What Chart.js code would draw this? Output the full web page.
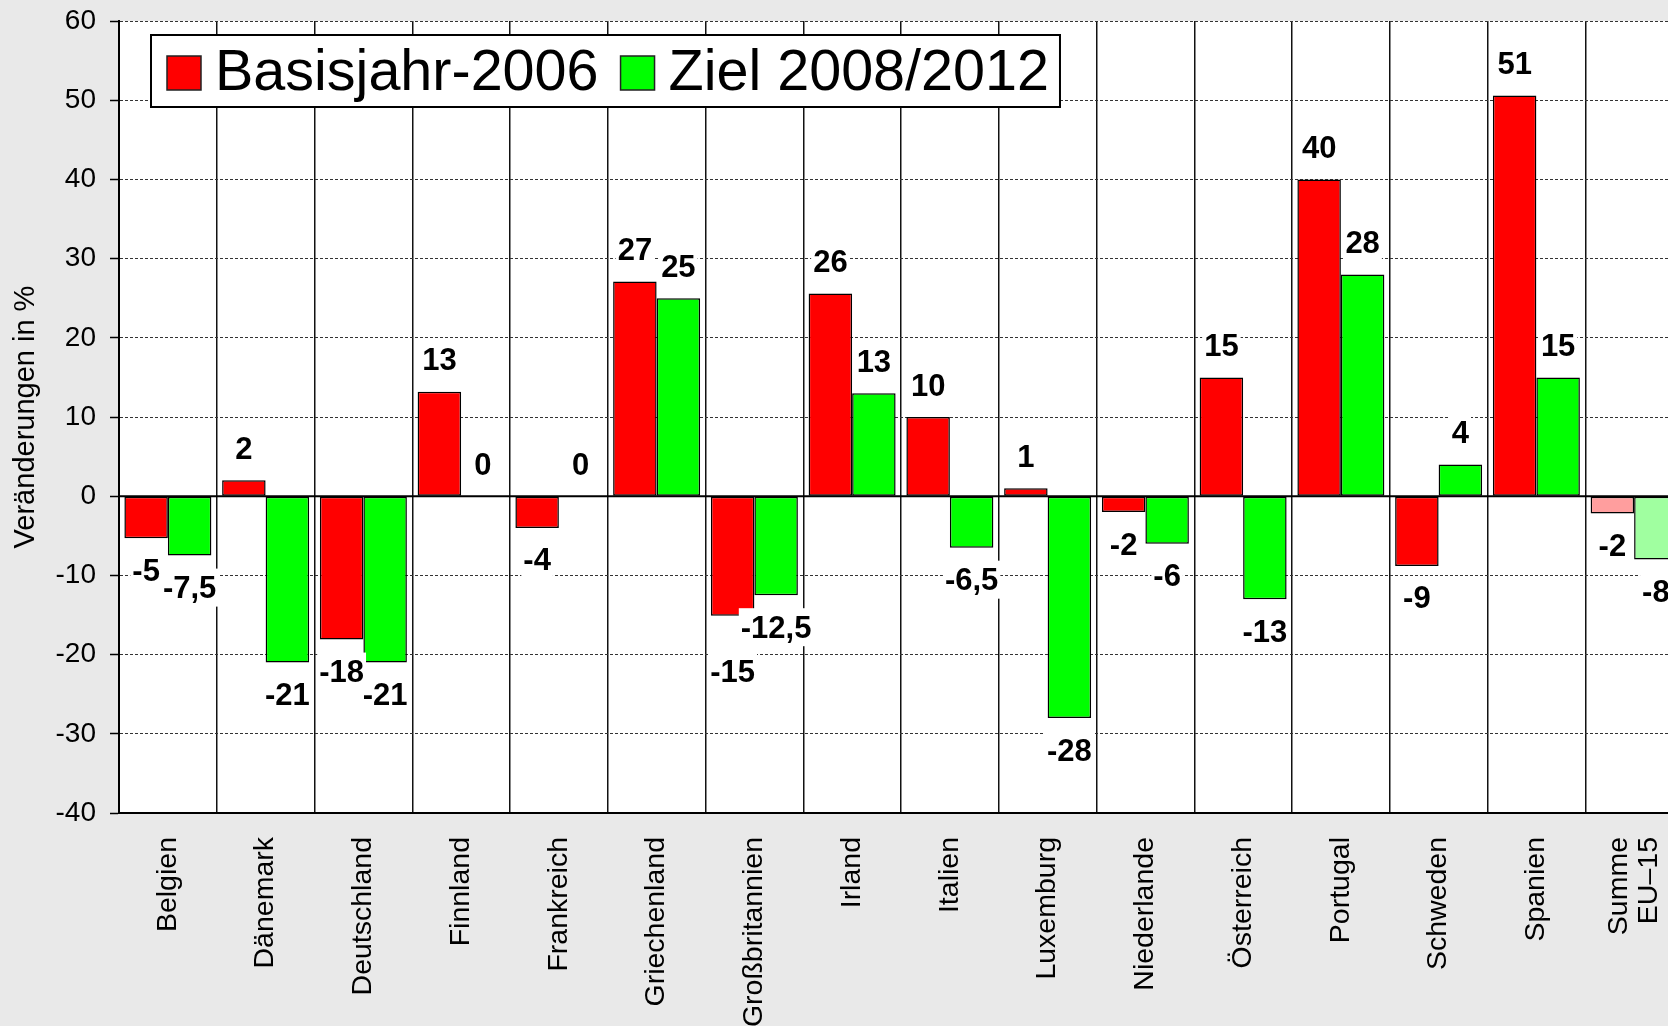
<!DOCTYPE html>
<html lang="de">
<head>
<meta charset="utf-8">
<title>Veränderungen in %</title>
<script src="https://cdn.jsdelivr.net/npm/chart.js@4.4.1/dist/chart.umd.min.js"></script>
<style>
  html, body { margin: 0; padding: 0; background: #e9e9e9; overflow: hidden; }
  #wrap { width: 1684px; height: 1026px; position: relative; }
</style>
</head>
<body>
<div id="wrap"><canvas id="chart"></canvas></div>
<script>
// Categories and values
const categories = ['Belgien', 'Dänemark', 'Deutschland', 'Finnland', 'Frankreich', 'Griechenland',
    'Großbritannien', 'Irland', 'Italien', 'Luxemburg', 'Niederlande', 'Österreich', 'Portugal',
    'Schweden', 'Spanien', ['Summe', 'EU–15']];
const basisValues = [-5.3, 2, -18.1, 13.2, -4, 27.1, -15.1, 25.6, 10, 1, -2, 15, 40, -8.8, 50.6, -2.2];
const basisLabels = ['-5', '2', '-18', '13', '-4', '27', '-15', '26', '10', '1', '-2', '15', '40', '-9', '51', '-2'];
const zielValues = [-7.5, -21, -21, 0, 0, 25, -12.5, 13, -6.5, -28, -6, -13, 28, 4, 15, -8];
const zielLabels = zielValues.map(v => String(v).replace('.', ','));
const seriesNames = ['Basisjahr-2006', 'Ziel 2008/2012'];
const yTicks = { min: -40, max: 60, step: 10 };

const FONT = '"Liberation Sans", Arial, Helvetica, sans-serif';
Chart.defaults.font.family = FONT;
Chart.defaults.color = '#000';

const lastIdx = categories.length - 1;

// white plot area
const plotBg = {
    id: 'plotBg',
    beforeDraw(chart) {
        const { ctx, chartArea: a } = chart;
        ctx.save();
        ctx.fillStyle = '#fff';
        ctx.fillRect(a.left, a.top, a.right - a.left, a.bottom - a.top);
        ctx.restore();
    }
};

// solid line at zero
const zeroLine = {
    id: 'zeroLine',
    beforeDatasetsDraw(chart) {
        const { ctx, chartArea: a } = chart;
        const y = chart.scales.y.getPixelForValue(0);
        ctx.save();
        ctx.strokeStyle = '#000';
        ctx.lineWidth = 2;
        ctx.beginPath();
        ctx.moveTo(a.left, y);
        ctx.lineTo(a.right, y);
        ctx.stroke();
        ctx.restore();
    }
};

// vertical category names, multi-line names centred on the category
const catLabels = {
    id: 'catLabels',
    afterDraw(chart) {
        const ctx = chart.ctx;
        const xs = chart.scales.x;
        const top = chart.chartArea.bottom + 24;
        const lh = 30;
        ctx.save();
        ctx.font = '28.5px ' + FONT;
        ctx.fillStyle = '#000';
        ctx.textAlign = 'right';
        ctx.textBaseline = 'middle';
        chart.data.labels.forEach((lab, i) => {
            const lines = Array.isArray(lab) ? lab : [lab];
            const cx = xs.getPixelForTick(i);
            lines.forEach((line, k) => {
                const x = cx + (k - (lines.length - 1) / 2) * lh;
                ctx.save();
                ctx.translate(x, top);
                ctx.rotate(-Math.PI / 2);
                ctx.fillText(line, 0, 0);
                ctx.restore();
            });
        });
        ctx.restore();
    }
};

function overlaps(b, p, inset) {
    return b.x + inset < p.x + p.w - inset && p.x + inset < b.x + b.w - inset &&
           b.y + inset < p.y + p.h - inset && p.y + inset < b.y + b.h - inset;
}

// value labels with white boxes
const valueLabels = {
    id: 'valueLabels',
    afterDatasetsDraw(chart) {
        const ctx = chart.ctx;
        ctx.save();
        ctx.font = 'bold 31px ' + FONT;
        ctx.textAlign = 'center';
        ctx.textBaseline = 'middle';
        const placed = [];
        const items = [];
        [1, 0].forEach(di => {
            const meta = chart.getDatasetMeta(di);
            const texts = di === 0 ? basisLabels : zielLabels;
            const vals = chart.data.datasets[di].data;
            meta.data.forEach((bar, i) => {
                const dir = vals[i] < 0 ? 1 : -1;
                const w = ctx.measureText(texts[i]).width + 4;
                const h = 38;
                let y = bar.y + dir * 32;
                let box = { x: bar.x - w / 2, y: y - h / 2, w, h };
                placed.forEach(p => {
                    if (overlaps(box, p, 6)) {
                        y = dir > 0 ? p.y + p.h + h / 2 + 6 : p.y - h / 2 - 6;
                        box = { x: bar.x - w / 2, y: y - h / 2, w, h };
                    }
                });
                placed.push(box);
                items.push({ text: texts[i], x: bar.x, y, box });
            });
        });
        items.forEach(it => {
            ctx.fillStyle = '#fff';
            ctx.fillRect(it.box.x, it.box.y, it.box.w, it.box.h);
            ctx.fillStyle = '#000';
            ctx.fillText(it.text, it.x, it.y + 2);
        });
        ctx.restore();
    }
};

// boxed legend inside the plot
const legendBox = {
    id: 'legendBox',
    afterDraw(chart) {
        const { ctx, chartArea: a } = chart;
        const x0 = a.left + 32, y0 = a.top + 14, h = 72, sq = 34;
        ctx.save();
        ctx.font = '57.5px ' + FONT;
        ctx.textBaseline = 'middle';
        ctx.textAlign = 'left';
        let x = x0 + 16;
        const parts = [];
        chart.data.datasets.forEach((ds, i) => {
            parts.push({ x, color: ds.legendColor, text: seriesNames[i] });
            x += sq + 14 + ctx.measureText(seriesNames[i]).width + 22;
        });
        const w = x - 22 + 11 - x0;
        ctx.fillStyle = '#fff';
        ctx.fillRect(x0, y0, w, h);
        ctx.strokeStyle = '#000';
        ctx.lineWidth = 2;
        ctx.strokeRect(x0, y0, w, h);
        const cy = y0 + h / 2;
        parts.forEach(p => {
            ctx.fillStyle = p.color;
            ctx.fillRect(p.x, cy - sq / 2 + 2, sq, sq);
            ctx.strokeStyle = '#222';
            ctx.lineWidth = 1.5;
            ctx.strokeRect(p.x, cy - sq / 2 + 2, sq, sq);
            ctx.fillStyle = '#000';
            ctx.fillText(p.text, p.x + sq + 14, cy + 3);
        });
        ctx.restore();
    }
};

const ctx = document.getElementById('chart').getContext('2d');
new Chart(ctx, {
    type: 'bar',
    data: {
        labels: categories,
        datasets: [{
            label: seriesNames[0],
            data: basisValues,
            legendColor: '#ff0000',
            backgroundColor: c => c.dataIndex === lastIdx ? '#ff9e9e' : '#ff0000',
            borderColor: '#000',
            borderWidth: 1.5,
            borderSkipped: false
        }, {
            label: seriesNames[1],
            data: zielValues,
            legendColor: '#00ff00',
            backgroundColor: c => c.dataIndex === lastIdx ? '#a0ffa0' : '#00ff00',
            borderColor: '#000',
            borderWidth: 1.5,
            borderSkipped: false
        }]
    },
    options: {
        responsive: true,
        maintainAspectRatio: false,
        animation: false,
        categoryPercentage: 0.89,
        barPercentage: 1.0,
        layout: { padding: { top: 21, right: 1, left: 0, bottom: 0 } },
        plugins: {
            legend: { display: false },
            tooltip: { enabled: false }
        },
        scales: {
            x: {
                grid: { color: '#111', lineWidth: 1.5, drawTicks: false, offset: true },
                border: { color: '#000', width: 2 },
                ticks: { display: false, autoSkip: false },
                afterFit: s => {
                    s.height = 213;
                    s.paddingLeft = 0; s.paddingRight = 0;
                }
            },
            y: {
                min: yTicks.min,
                max: yTicks.max,
                ticks: { stepSize: yTicks.step, padding: 14, font: { size: 28 }, color: '#000' },
                grid: {
                    color: '#333', lineWidth: 1, tickLength: 9,
                    tickColor: '#000', tickWidth: 1.5, tickBorderDash: []
                },
                border: { color: '#000', width: 2, dash: [3, 2] },
                title: {
                    display: true, text: 'Veränderungen in %',
                    font: { size: 29 }, color: '#000', padding: { top: 9, bottom: 0 }
                },
                afterFit: s => {
                    s.width = 119;
                    s.paddingTop = 0; s.paddingBottom = 0;
                }
            }
        }
    },
    plugins: [plotBg, zeroLine, valueLabels, legendBox, catLabels]
});
</script>
</body>
</html>
